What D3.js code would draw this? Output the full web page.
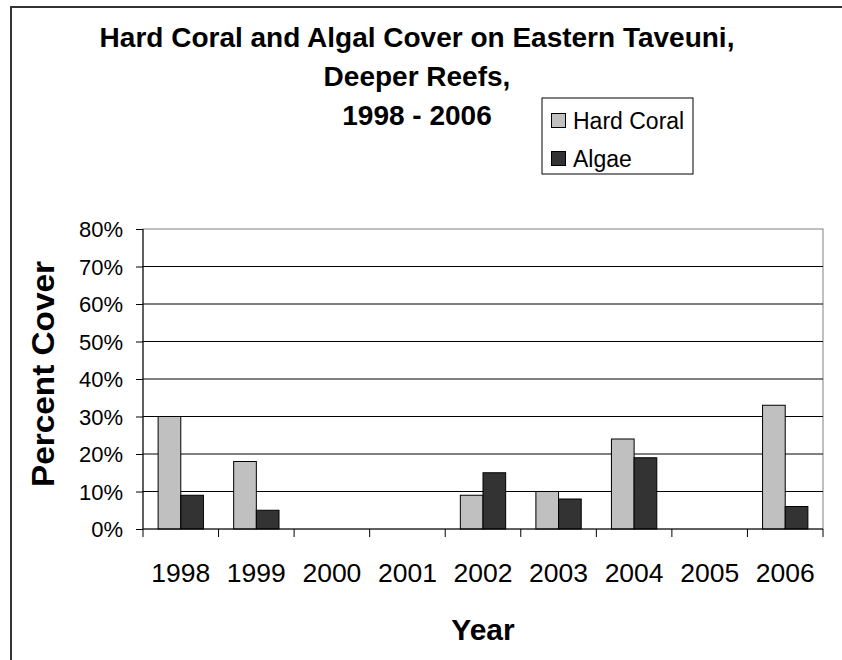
<!DOCTYPE html>
<html><head><meta charset="utf-8">
<script src="https://cdn.jsdelivr.net/npm/d3@7"></script>
<style>html,body{margin:0;padding:0;background:#fff;}svg{display:block;}</style>
</head><body>
<svg id="c" width="842" height="660"></svg>
<script>
const years = ["1998","1999","2000","2001","2002","2003","2004","2005","2006"];
const hardCoral = [30, 18, null, null, 9, 10, 24, null, 33];
const algae = [9, 5, null, null, 15, 8, 19, null, 6];
const seriesNames = ["Hard Coral", "Algae"];
const seriesColors = ["#c0c0c0", "#333333"];
const yTicks = [0, 10, 20, 30, 40, 50, 60, 70, 80];
const titleLines = ["Hard Coral and Algal Cover on Eastern Taveuni,", "Deeper Reefs,", "1998 - 2006"];

const svg = d3.select("#c");
const font = "'Liberation Sans', Arial, sans-serif";
const L = 143, R = 823, T = 229, B = 529;

// outer frame
svg.append("rect").attr("x", 11).attr("y", 7).attr("width", 900).attr("height", 700)
  .attr("fill", "none").attr("stroke", "#333").attr("stroke-width", 2);

const x = d3.scaleBand().domain(years).range([L, R]).paddingInner(0).paddingOuter(0);
const y = d3.scaleLinear().domain([0, 80]).range([B, T]);

// plot border
svg.append("rect").attr("x", L).attr("y", T).attr("width", R - L).attr("height", B - T)
  .attr("fill", "none").attr("stroke", "#808080").attr("stroke-width", 1);

// gridlines
svg.append("g").selectAll("line").data(yTicks.filter(d => d > 0 && d < 80)).join("line")
  .attr("x1", L).attr("x2", R).attr("y1", d => y(d)).attr("y2", d => y(d))
  .attr("stroke", "#000").attr("stroke-width", 1);

// bars
const data = years.map((yr, i) => ({yr, vals: [hardCoral[i], algae[i]]}));
const bw = x.bandwidth() * 0.3;
const g = svg.append("g");
data.forEach(d => {
  d.vals.forEach((v, j) => {
    if (v == null) return;
    g.append("rect")
      .attr("x", x(d.yr) + x.bandwidth() * 0.2 + j * bw)
      .attr("y", y(v)).attr("width", bw).attr("height", y(0) - y(v))
      .attr("fill", seriesColors[j]).attr("stroke", "#000").attr("stroke-width", 1);
  });
});

// y axis
const yAxis = d3.axisLeft(y).tickValues(yTicks).tickFormat(d => d + "%").tickSize(7).tickPadding(13);
const ya = svg.append("g").attr("transform", `translate(${L},0)`).call(yAxis);
ya.select(".domain").attr("stroke", "#000").attr("d", `M0,${B}V${T}`);
ya.selectAll(".tick line").attr("stroke", "#000");
ya.selectAll("text").attr("font-family", font).attr("font-size", 22).attr("fill", "#000").attr("dy", "0.36em");

// x axis with ticks at category boundaries
const xa = svg.append("g").attr("transform", `translate(0,${B})`);
xa.append("line").attr("x1", L).attr("x2", R).attr("stroke", "#000");
xa.selectAll(".bt").data(years.concat(["end"])).join("line").attr("class", "bt")
  .attr("x1", (d, i) => L + i * x.step()).attr("x2", (d, i) => L + i * x.step())
  .attr("y1", 0).attr("y2", 8).attr("stroke", "#000");
xa.selectAll("text").data(years).join("text")
  .attr("x", d => x(d) + x.bandwidth() / 2).attr("y", 53)
  .attr("text-anchor", "middle").attr("font-family", font).attr("font-size", 26.5).attr("fill", "#000")
  .text(d => d);

// title
svg.append("g").selectAll("text").data(titleLines).join("text")
  .attr("x", 417).attr("y", (d, i) => 47 + i * 39)
  .attr("text-anchor", "middle").attr("font-family", font).attr("font-weight", "bold")
  .attr("font-size", 28).attr("fill", "#000").text(d => d);

// axis titles
svg.append("text").attr("x", 483).attr("y", 640).attr("text-anchor", "middle")
  .attr("font-family", font).attr("font-weight", "bold").attr("font-size", 30).text("Year");
svg.append("text").attr("transform", "translate(54,374) rotate(-90)").attr("text-anchor", "middle")
  .attr("font-family", font).attr("font-weight", "bold").attr("font-size", 31)
  .attr("textLength", 226).attr("lengthAdjust", "spacingAndGlyphs").text("Percent Cover");

// legend
const lg = svg.append("g");
lg.append("rect").attr("x", 542).attr("y", 98).attr("width", 151).attr("height", 76)
  .attr("fill", "#fff").attr("stroke", "#000").attr("stroke-width", 1);
seriesNames.forEach((s, i) => {
  lg.append("rect").attr("x", 551.5).attr("y", 113.5 + i * 38).attr("width", 14).attr("height", 14)
    .attr("fill", seriesColors[i]).attr("stroke", "#000");
  lg.append("text").attr("x", 573).attr("y", 129 + i * 38).attr("font-family", font)
    .attr("font-size", 23).attr("fill", "#000").text(s);
});
</script>
</body></html>
